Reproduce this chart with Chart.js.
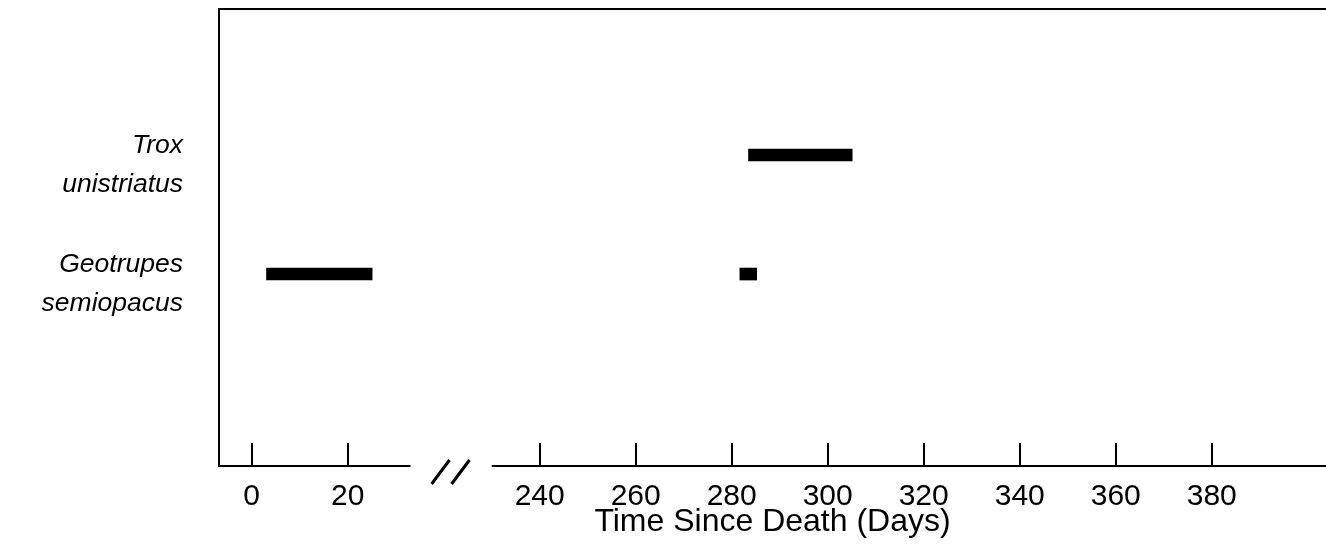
<!DOCTYPE html>
<html>
<head>
<meta charset="utf-8">
<script src="https://cdn.jsdelivr.net/npm/chart.js@4.4.1/dist/chart.umd.min.js"></script>
<style>
  html, body { margin: 0; padding: 0; background: #fff; }
  #wrap { width: 1326px; height: 556px; position: relative; }
</style>
</head>
<body>
<div id="wrap"><canvas id="c" width="1326" height="556"></canvas></div>
<script>
// ---- data ----
const speciesLabels = [['Geotrupes', 'semiopacus'], ['Trox', 'unistriatus']];
const speciesRow = [1, 2];
const presenceSpecies = [0, 0, 1];          // index into speciesLabels
const presenceStart = [3.1, 281.7, 283.5];  // days since death
const presenceEnd   = [25.1, 285.2, 305.1];
const xTickDays = [0, 20, 240, 260, 280, 300, 320, 340, 360, 380];
const xTitle = 'Time Since Death (Days)';

// ---- broken axis mapping (days 40..220 removed) ----
const BREAK_FROM = 200, BREAK_SHIFT = 180;
function toAxis(d) { return d >= BREAK_FROM ? d - BREAK_SHIFT : d; }
const GAP_LEFT = 33.1, GAP_RIGHT = 50;   // axis-units where the baseline is interrupted

const barData = presenceStart.map((s, i) => ({
  x: [toAxis(s), toAxis(presenceEnd[i])],
  y: speciesRow[presenceSpecies[i]]
}));

const axisPlugin = {
  id: 'axisPlugin',
  afterDatasetsDraw(chart) {
    const { ctx, chartArea: a, scales: { x } } = chart;
    ctx.save();
    ctx.strokeStyle = '#000';
    ctx.lineWidth = 2;
    ctx.lineCap = 'butt';
    ctx.beginPath();
    ctx.moveTo(a.left, a.top - 1); ctx.lineTo(a.left, a.bottom + 1);
    ctx.moveTo(a.left, a.top); ctx.lineTo(a.right, a.top);
    ctx.moveTo(a.left, a.bottom); ctx.lineTo(x.getPixelForValue(GAP_LEFT), a.bottom);
    ctx.moveTo(x.getPixelForValue(GAP_RIGHT), a.bottom); ctx.lineTo(a.right, a.bottom);
    x.ticks.forEach(t => {
      const px = Math.round(x.getPixelForValue(t.value));
      ctx.moveTo(px, a.bottom - 23); ctx.lineTo(px, a.bottom);
    });
    ctx.stroke();
    ctx.lineWidth = 3;
    ctx.beginPath();
    const gl = x.getPixelForValue(GAP_LEFT);
    [21, 41].forEach(off => {
      ctx.moveTo(gl + off, a.bottom + 18);
      ctx.lineTo(gl + off + 18, a.bottom - 6);
    });
    ctx.stroke();
    ctx.restore();
  }
};

new Chart(document.getElementById('c'), {
  type: 'bar',
  data: {
    datasets: [{
      data: barData,
      backgroundColor: '#000',
      borderWidth: 0,
      barThickness: 12,
      grouped: false
    }]
  },
  options: {
    indexAxis: 'y',
    responsive: false,
    animation: false,
    layout: { padding: { top: 9, right: 0, left: 0, bottom: 0 } },
    plugins: { legend: { display: false }, tooltip: { enabled: false } },
    scales: {
      x: {
        type: 'linear',
        min: -6.8,
        max: 223.8,
        offset: false,
        grid: { display: false },
        border: { display: false },
        afterBuildTicks(scale) { scale.ticks = xTickDays.map(d => ({ value: toAxis(d) })); },
        afterFit(scale) { scale.height = 90; },
        ticks: {
          autoSkip: false,
          maxRotation: 0,
          padding: 5,
          color: '#000',
          font: { family: '"Liberation Sans", Arial, sans-serif', size: 30 },
          callback: (v, i) => String(xTickDays[i])
        },
        title: {
          display: true,
          text: xTitle,
          color: '#000',
          padding: { top: 0, bottom: 15 },
          font: { family: '"Liberation Sans", Arial, sans-serif', size: 32 }
        }
      },
      y: {
        type: 'linear',
        min: -0.613,
        max: 3.227,
        offset: false,
        grid: { display: false },
        border: { display: false },
        afterBuildTicks(scale) { scale.ticks = speciesRow.map(r => ({ value: r })); },
        afterFit(scale) { scale.width = 219; scale.paddingTop = 0; scale.paddingBottom = 0; },
        ticks: {
          padding: 28,
          labelOffset: 10,
          color: '#000',
          font: { family: '"Liberation Sans", Arial, sans-serif', size: 26.5, style: 'italic', lineHeight: 1.45 },
          callback: (v, i) => speciesLabels[i]
        }
      }
    }
  },
  plugins: [axisPlugin]
});
</script>
</body>
</html>
